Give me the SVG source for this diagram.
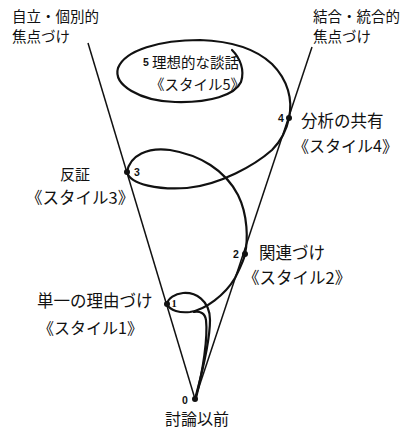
<svg xmlns="http://www.w3.org/2000/svg" width="407" height="432" viewBox="0 0 407 432">
<style>
.t{font-family:"Noto Sans CJK JP","Noto Sans",sans-serif;fill:#111}
.n{font-family:"Liberation Sans",sans-serif;font-weight:bold;font-size:10.5px;fill:#111;dominant-baseline:central;text-anchor:middle}
.axis{stroke:#111;stroke-width:1.5;fill:none}
.sp{stroke:#111;stroke-width:2.2;fill:none;stroke-linecap:round;stroke-linejoin:round}
</style>
<rect width="407" height="432" fill="#fff"/>
<g id="connectors">
<line class="axis" x1="195" y1="399" x2="88" y2="43"/>
<line class="axis" x1="195" y1="399" x2="312" y2="47"/>
<path class="sp" d="M195,399 C200,380 210,345 210,320 C210,300 195,292 183,293 C175,294 168,298 167,304 C170,311 180,313 190,312 C205,310 225,295 235,278 C240,268 244,260 245,254 C248,240 248,215 238,195 C225,170 200,155 170,150 C148,147 130,155 127,172 C130,185 160,190 187,188 C220,185 255,165 272,150 C282,140 287,128 289,118 C293,100 288,80 272,64 C255,48 230,41 200,40 C160,40 125,50 118,68 C113,85 140,101 175,102 C210,103 235,95 241,82 C245,70 240,58 232,50"/>
<path class="sp" d="M196,398 C203,370 208,338 206,320 C205,313 200,311 194,312"/>
</g>
<g id="axis-left-label">
<text class="t" x="12" y="22" font-size="14.5">自立・個別的</text>
<text class="t" x="12" y="42" font-size="14.5">焦点づけ</text>
</g>
<g id="axis-right-label">
<text class="t" x="313" y="22" font-size="14.5">結合・統合的</text>
<text class="t" x="313" y="42" font-size="14.5">焦点づけ</text>
</g>
<g id="node0">
<circle cx="195" cy="399" r="3" fill="#111"/>
<text class="n" x="185" y="400">0</text>
<text class="t" x="165" y="425" font-size="16">討論以前</text>
</g>
<g id="node1">
<circle cx="167" cy="304" r="3" fill="#111"/>
<text class="n" x="174" y="303" style="font-family:'Liberation Serif',serif">1</text>
<text class="t" x="37" y="307" font-size="16.5">単一の理由づけ</text>
<text class="t" x="38" y="334" font-size="16">《スタイル1》</text>
</g>
<g id="node2">
<circle cx="245" cy="254" r="3" fill="#111"/>
<text class="n" x="236" y="254">2</text>
<text class="t" x="259" y="259" font-size="16.5">関連づけ</text>
<text class="t" x="243" y="284" font-size="16.5">《スタイル2》</text>
</g>
<g id="node3">
<circle cx="127" cy="172" r="3" fill="#111"/>
<text class="n" x="137" y="172">3</text>
<text class="t" x="75" y="180" font-size="15" text-anchor="middle">反証</text>
<text class="t" x="26" y="204" font-size="16.5">《スタイル3》</text>
</g>
<g id="node4">
<circle cx="289" cy="118" r="3" fill="#111"/>
<text class="n" x="281" y="118">4</text>
<text class="t" x="301" y="127" font-size="16.5">分析の共有</text>
<text class="t" x="293" y="152" font-size="16">《スタイル4》</text>
</g>
<g id="node5">
<text class="n" x="146" y="62" font-size="9">5</text>
<text class="t" x="152" y="68" font-size="14.5">理想的な談話</text>
<text class="t" x="150" y="90" font-size="14.5">《スタイル5》</text>
</g>
</svg>
